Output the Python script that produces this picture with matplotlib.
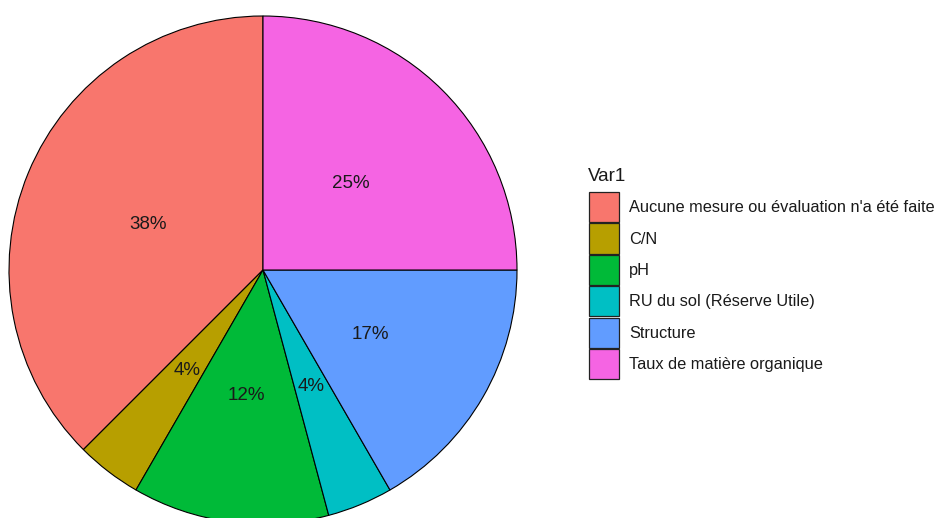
import matplotlib
matplotlib.use("Agg")
import matplotlib.pyplot as plt
import matplotlib.patches as mpatches

plt.rcParams["font.family"] = ["Liberation Sans", "DejaVu Sans"]

# Counts per category (Var1) -> 38%, 4%, 12%, 4%, 17%, 25%
CATEGORIES = [
    "Aucune mesure ou évaluation n'a été faite",
    "C/N",
    "pH",
    "RU du sol (Réserve Utile)",
    "Structure",
    "Taux de matière organique",
]
COUNTS = [9, 1, 3, 1, 4, 6]
COLORS = ["#F8766D", "#B79F00", "#00BA38", "#00BFC4", "#619CFF", "#F564E3"]

W, H = 940, 518
fig = plt.figure(figsize=(W / 100, H / 100), dpi=100)
fig.patch.set_facecolor("white")

# pie axes: centre ~ (263, 270) px, radius ~254 px (bottom slightly cut off)
R = 254
cx, cy = 263, 270
ax = fig.add_axes([(cx - R) / W, (H - cy - R) / H, 2 * R / W, 2 * R / H])

wedges, texts, autotexts = ax.pie(
    COUNTS, colors=COLORS, startangle=90, counterclock=True, radius=1,
    autopct="%.0f%%", pctdistance=0.49,
    wedgeprops=dict(edgecolor="black", linewidth=0.8),
    textprops=dict(fontsize=13.5, color="#1a1a1a"),
)
for t in autotexts:
    t.set_va("center_baseline")
ax.set_xlim(-1, 1)
ax.set_ylim(-1, 1)
ax.set_aspect("equal")
ax.axis("off")

# legend (title drawn separately to get ggplot-like spacing)
fs = 11.8
handles = [mpatches.Patch(facecolor=c, edgecolor="#222222", linewidth=0.9, label=l)
           for l, c in zip(CATEGORIES, COLORS)]
leg = fig.legend(handles=handles, loc="upper left",
                 bbox_to_anchor=(589 / W, 1 - 192 / H), frameon=False,
                 fontsize=fs, borderpad=0, borderaxespad=0,
                 handlelength=1.84, handleheight=2.45, labelspacing=0.08,
                 handletextpad=0.6)
for t in leg.get_texts():
    t.set_color("#1a1a1a")
fig.text(588 / W, 1 - 181 / H, "Var1", fontsize=13.5, color="#1a1a1a",
         ha="left", va="baseline")

fig.savefig("out.png", dpi=100, facecolor="white")
